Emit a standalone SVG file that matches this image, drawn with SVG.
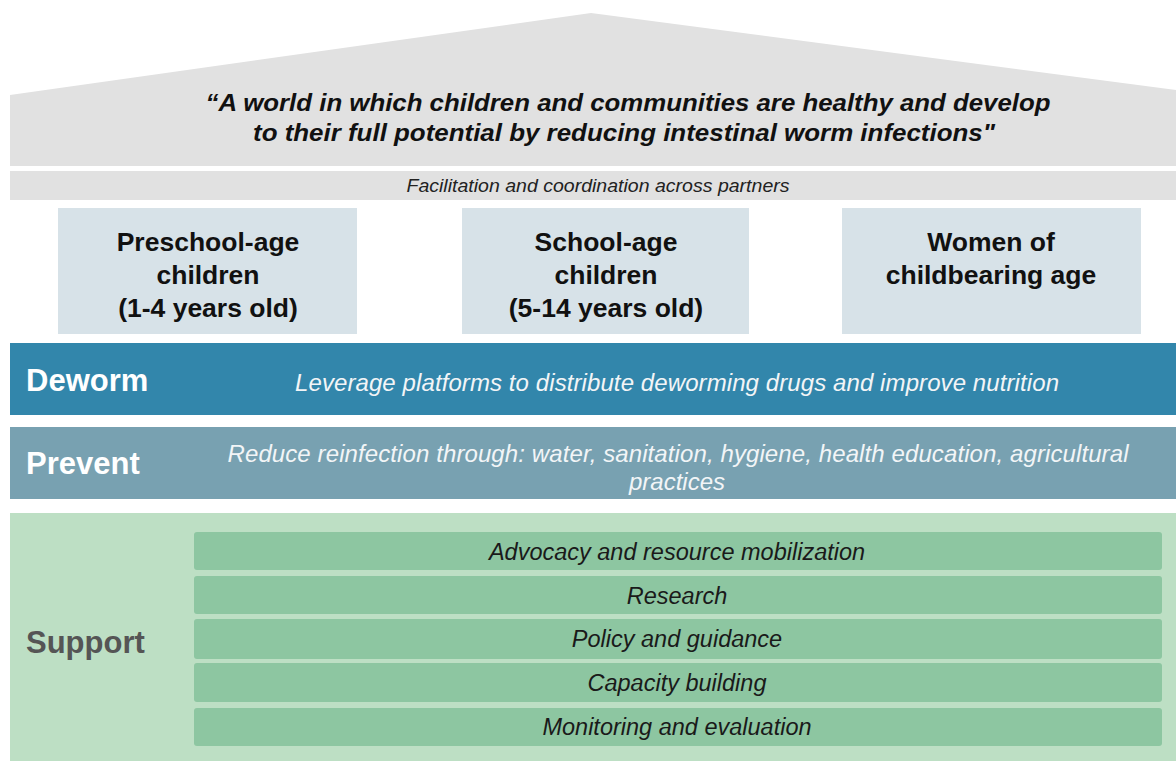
<svg xmlns="http://www.w3.org/2000/svg" width="1176" height="761" viewBox="0 0 1176 761">
<style>
  text { font-family: "Liberation Sans", Arial, sans-serif; }
  .quote { font-size: 24px; font-weight: bold; font-style: italic; fill: #111; text-anchor: middle; }
  .fac { font-size: 19px; font-style: italic; fill: #222; text-anchor: middle; }
  .box { fill: #d7e2e8; }
  .boxt { font-size: 26.5px; font-weight: bold; fill: #111; text-anchor: middle; }
  .head { font-size: 31px; font-weight: bold; }
  .desc { font-size: 24px; font-style: italic; fill: #f2f5f7; text-anchor: middle; }
  .bar { fill: #8dc6a1; }
  .bart { font-size: 23.5px; font-style: italic; fill: #1a1a1a; text-anchor: middle; }
</style>
<rect width="1176" height="761" fill="#ffffff"/>
<g id="roof">
  <polygon points="10,95 591,13 1176,90 1176,166 10,166" fill="#e1e1e1"/>
  <text class="quote" x="628" y="111" textLength="845" lengthAdjust="spacingAndGlyphs">“A world in which children and communities are healthy and develop</text>
  <text class="quote" x="624" y="141" textLength="742" lengthAdjust="spacingAndGlyphs">to their full potential by reducing intestinal worm infections"</text>
</g>
<g id="facilitation">
  <rect x="10" y="171" width="1166" height="29" fill="#e1e1e1"/>
  <text class="fac" x="598" y="192" textLength="383" lengthAdjust="spacingAndGlyphs">Facilitation and coordination across partners</text>
</g>
<g id="preschool">
  <rect class="box" x="58" y="208" width="299" height="126"/>
  <text class="boxt" x="208" y="251">Preschool-age</text>
  <text class="boxt" x="208" y="284">children</text>
  <text class="boxt" x="208" y="317">(1-4 years old)</text>
</g>
<g id="schoolage">
  <rect class="box" x="462" y="208" width="287" height="126"/>
  <text class="boxt" x="606" y="251">School-age</text>
  <text class="boxt" x="606" y="284">children</text>
  <text class="boxt" x="606" y="317">(5-14 years old)</text>
</g>
<g id="women">
  <rect class="box" x="842" y="208" width="299" height="126"/>
  <text class="boxt" x="991" y="251">Women of</text>
  <text class="boxt" x="991" y="284">childbearing age</text>
</g>
<g id="deworm">
  <rect x="10" y="343" width="1166" height="72" fill="#3286ab"/>
  <text class="head" x="26" y="391" fill="#ffffff">Deworm</text>
  <text class="desc" x="677" y="391" textLength="764" lengthAdjust="spacing">Leverage platforms to distribute deworming drugs and improve nutrition</text>
</g>
<g id="prevent">
  <rect x="10" y="427" width="1166" height="72" fill="#78a1b1"/>
  <text class="head" x="26" y="474" fill="#ffffff">Prevent</text>
  <text class="desc" x="678" y="462" textLength="901" lengthAdjust="spacing">Reduce reinfection through: water, sanitation, hygiene, health education, agricultural</text>
  <text class="desc" x="677" y="490">practices</text>
</g>
<g id="support">
  <rect x="10" y="513" width="1166" height="248" fill="#bddfc4"/>
  <text class="head" x="26" y="653" fill="#555555">Support</text>
  <rect class="bar" x="194" y="532" width="968" height="38" rx="3"/>
  <text class="bart" x="677" y="560">Advocacy and resource mobilization</text>
  <rect class="bar" x="194" y="576" width="968" height="38" rx="3"/>
  <text class="bart" x="677" y="604">Research</text>
  <rect class="bar" x="194" y="619" width="968" height="40" rx="3"/>
  <text class="bart" x="677" y="647">Policy and guidance</text>
  <rect class="bar" x="194" y="663" width="968" height="39" rx="3"/>
  <text class="bart" x="677" y="691">Capacity building</text>
  <rect class="bar" x="194" y="708" width="968" height="38" rx="3"/>
  <text class="bart" x="677" y="735">Monitoring and evaluation</text>
</g>
<g id="connectors"></g>
</svg>
